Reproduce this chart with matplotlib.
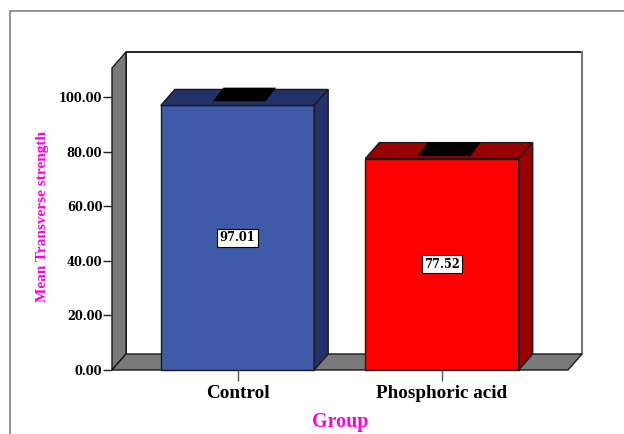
import matplotlib
matplotlib.use('Agg')
import matplotlib.pyplot as plt
from matplotlib.lines import Line2D
from matplotlib.patches import Polygon

groups = ['Control', 'Phosphoric acid']
means = [97.01, 77.52]
err_tops = [98.1, 78.0]
y_ticks = [0, 20, 40, 60, 80, 100]
y_labels = ['0.00', '20.00', '40.00', '60.00', '80.00', '100.00']

W, H = 624, 434
blue, blue_dark = '#3e5aa8', '#233268'
red, red_dark = '#ff0000', '#990000'
gray = '#7a7a7a'
edge = '#1a1a1a'
magenta = '#ff00e0'

fig = plt.figure(figsize=(W / 100, H / 100), dpi=100)
# axes box in pixels, the front edge of the floor
ax = fig.add_axes([112 / W, 1 - 370 / H, (568 - 112) / W, (370 - 68) / H])
ax.set_xlim(-0.6137, 1.6161)
ax.set_ylim(0, 110.75)
for s in ax.spines.values():
    s.set_visible(False)
ax.patch.set_alpha(0)

# depth of the fake 3d box, in data units
dx = 14 / 204.5
dy = 16 / 2.727
x0, x1 = ax.get_xlim()
y1 = ax.get_ylim()[1]


def poly(pts, fc, ec=edge, lw=1.0, z=2):
    ax.add_patch(Polygon(pts, closed=True, facecolor=fc, edgecolor=ec, linewidth=lw,
                         zorder=z, clip_on=False, joinstyle='miter'))


# back wall, left wall, floor
poly([(x0 + dx, dy), (x1 + dx, dy), (x1 + dx, y1 + dy), (x0 + dx, y1 + dy)], 'white', ec='none', z=1)
ax.plot([x0 + dx, x0 + dx, x1 + dx], [dy, y1 + dy, y1 + dy], color='black', lw=1.2, zorder=1.5, clip_on=False)
ax.plot([x1 + dx, x1 + dx], [y1 + dy, dy], color='#777777', lw=1.5, zorder=1.5, clip_on=False)
poly([(x0, 0), (x0 + dx, dy), (x0 + dx, y1 + dy), (x0, y1)], gray)
poly([(x0, 0), (x1, 0), (x1 + dx, dy), (x0 + dx, dy)], gray)

w = 0.375
cap_w = 26 / 204.5
cap_dx = 10 / 204.5
cap_h = 13 / 2.727
colors = [(blue, blue_dark), (red, red_dark)]
for i, v in enumerate(means):
    fc, dark = colors[i]
    poly([(i - w, 0), (i + w, 0), (i + w, v), (i - w, v)], fc, z=3)
    poly([(i - w, v), (i + w, v), (i + w + dx, v + dy), (i - w + dx, v + dy)], dark, z=3)
    poly([(i + w, 0), (i + w + dx, dy), (i + w + dx, v + dy), (i + w, v)], dark, z=3)
    # error bar cap
    cx = i + dx / 2
    cy = err_tops[i] + dy / 2
    poly([(cx - cap_w - cap_dx / 2, cy - cap_h / 2), (cx + cap_w - cap_dx / 2, cy - cap_h / 2),
          (cx + cap_w + cap_dx / 2, cy + cap_h / 2), (cx - cap_w + cap_dx / 2, cy + cap_h / 2)],
         'black', ec='black', lw=0.5, z=4)
    ax.text(i, v / 2, f'{v:.2f}', ha='center', va='center', fontsize=8.3, fontweight='bold',
            family='DejaVu Serif', zorder=5,
            bbox=dict(boxstyle='square,pad=0.22', facecolor='white', edgecolor='black', linewidth=0.8))

ax.set_yticks(y_ticks)
ax.set_yticklabels(y_labels, fontsize=8.3, fontweight='bold', family='DejaVu Serif')
ax.set_xticks(range(len(groups)))
ax.set_xticklabels(groups, fontsize=13.8, fontweight='bold', family='Liberation Serif')
ax.tick_params(axis='y', length=6.5, width=1, color='#222222', pad=0.5)
ax.tick_params(axis='x', length=8, width=1, color='#555555', pad=2.5)

fig.text(340 / W, 1 - 422 / H, 'Group', color=magenta, fontsize=14.4, fontweight='bold',
         family='Liberation Serif', ha='center', va='center')
fig.text(42.5 / W, 1 - 217 / H, 'Mean Transverse strength', color=magenta, fontsize=11, fontweight='bold',
         family='Liberation Serif', rotation=90, ha='center', va='center')

# outer frame, open to the right and the bottom
fig.add_artist(Line2D([9.5 / W, 9.5 / W, 1], [0, 1 - 10.5 / H, 1 - 10.5 / H], color='#808080', lw=1.2))

fig.savefig('out.png', dpi=100)
